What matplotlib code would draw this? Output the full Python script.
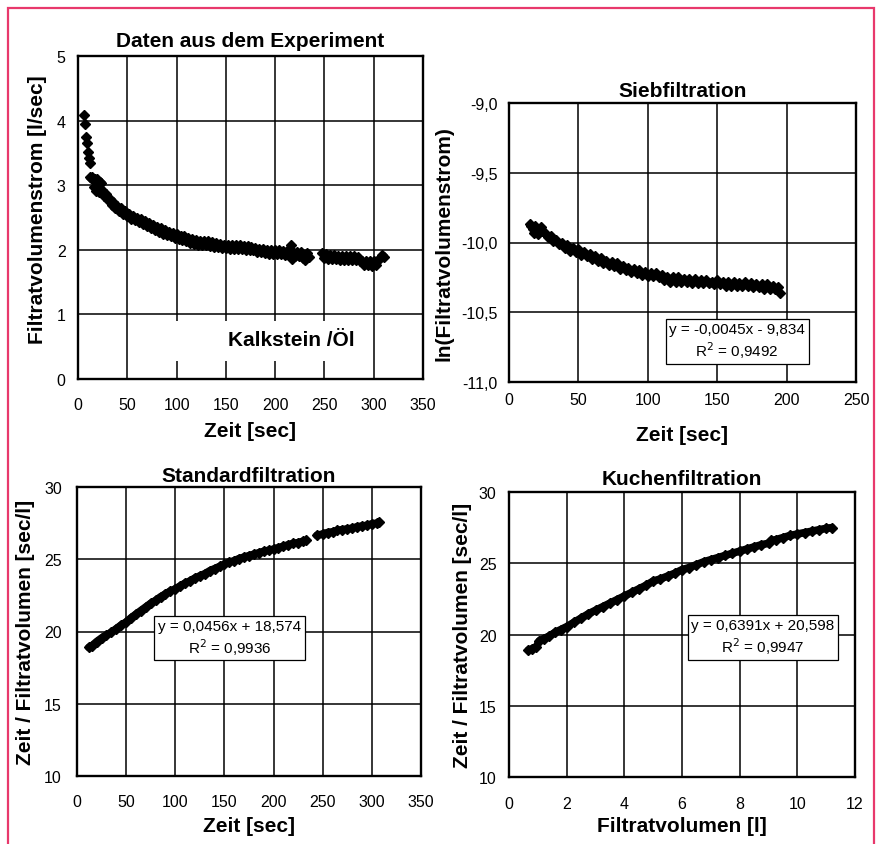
import matplotlib
matplotlib.use("Agg")
import matplotlib.pyplot as plt
from matplotlib.patches import Rectangle

plt.rcParams['font.family'] = ['Liberation Sans', 'DejaVu Sans']

# ---------------- data ----------------
# Daten aus dem Experiment: Zeit [sec] vs Filtratvolumenstrom [l/sec]
exp_t = [6, 7, 8.5, 9.5, 10.5, 11.5, 12, 12.5, 13.5, 14.5, 15.5, 16, 17, 18, 19, 20, 21, 22, 23,
         24, 26, 28, 30, 32, 34, 36, 38, 40, 42, 44, 46, 48, 50, 52, 54, 56, 58, 60, 62, 64, 66, 68,
         70, 72, 74, 76, 78, 80, 82, 84, 86, 88, 90, 92, 94, 96, 98, 100, 102, 104, 106, 108, 110,
         112, 114, 116, 118, 120, 122, 124, 126, 128, 130, 132, 134, 136, 138, 140, 142, 144, 146,
         148, 150, 152, 154, 156, 158, 160, 162, 164, 166, 168, 170, 172, 174, 176, 178, 180, 182,
         184, 186, 188, 190, 192, 194, 196, 198, 200, 202, 204, 206, 208, 210, 212, 214, 216, 217,
         218, 220, 222, 224, 226, 228, 230, 232, 234,
         248, 250, 252, 254, 256, 258, 260, 262, 264, 266, 268, 270, 272, 274, 276, 278, 280, 282,
         284, 286, 288, 290, 292, 294, 296, 298, 300, 302, 304, 306, 308, 310]
exp_q = [4.08, 3.95, 3.74, 3.65, 3.52, 3.42, 3.34, 3.12, 3.11, 3.12, 3.10, 2.97, 3.10, 2.91, 3.09, 2.93, 2.90, 3.05, 3.03,
         2.92, 2.84, 2.86, 2.77, 2.79, 2.70, 2.74, 2.65, 2.68, 2.60, 2.64, 2.56, 2.60, 2.52, 2.56, 2.48, 2.53, 2.46, 2.50, 2.43, 2.48, 2.40, 2.45,
         2.37, 2.42, 2.34, 2.39, 2.31, 2.35, 2.28, 2.33, 2.25, 2.30, 2.23, 2.28, 2.21, 2.26, 2.18, 2.24, 2.17, 2.22, 2.15, 2.21, 2.13,
         2.18, 2.10, 2.16, 2.09, 2.15, 2.08, 2.14, 2.07, 2.13, 2.07, 2.13, 2.06, 2.12, 2.05, 2.10, 2.04, 2.09, 2.03,
         2.08, 2.03, 2.08, 2.02, 2.08, 2.02, 2.07, 2.01, 2.07, 2.01, 2.06, 2.00, 2.06, 2.00, 2.05, 1.99, 2.03, 1.97,
         2.02, 1.96, 2.01, 1.95, 2.00, 1.94, 2.00, 1.94, 1.99, 1.93, 1.99, 1.93, 1.98, 1.92, 1.98, 1.92, 2.08, 1.86,
         1.97, 1.91, 1.97, 1.90, 1.96, 1.88, 1.84, 1.95, 1.89,
         1.95, 1.88, 1.93, 1.86, 1.92, 1.85, 1.92, 1.85, 1.91, 1.84, 1.91, 1.84, 1.90, 1.84, 1.90, 1.84, 1.90, 1.84,
         1.89, 1.83, 1.83, 1.77, 1.83, 1.76, 1.82, 1.75, 1.82, 1.77, 1.84, 1.88, 1.92, 1.89]

# Siebfiltration: Zeit [sec] vs ln(Filtratvolumenstrom)
sieb_t = [15, 16, 17, 18, 19, 21, 23, 24, 26, 28, 30, 32, 34, 36, 38, 40, 42, 44, 46, 48, 50, 52, 54,
          56, 58, 60, 62, 64, 66, 68, 70, 72, 74, 76, 78, 80, 82, 84, 86, 88, 90, 92, 94, 96, 98, 100,
          102, 104, 106, 108, 110, 112, 114, 116, 118, 120, 122, 124, 126, 128, 130, 132, 134, 136, 138,
          140, 142, 144, 146, 148, 150, 152, 154, 156, 158, 160, 162, 164, 166, 168, 170, 172, 174, 176,
          178, 180, 182, 184, 186, 188, 190, 192, 194, 195]
sieb_ln = [-9.87, -9.88, -9.90, -9.93, -9.88, -9.94, -9.89, -9.92, -9.93, -9.96, -9.95, -9.99, -9.98, -10.01,
           -10.00, -10.04, -10.02, -10.06, -10.04, -10.07, -10.05, -10.09, -10.07, -10.10, -10.08, -10.12,
           -10.10, -10.13, -10.11, -10.15, -10.13, -10.16, -10.14, -10.17, -10.15, -10.19, -10.17, -10.20,
           -10.18, -10.21, -10.19, -10.22, -10.20, -10.23, -10.21, -10.24, -10.22, -10.24, -10.22, -10.25,
           -10.23, -10.27, -10.25, -10.28, -10.25, -10.28, -10.25, -10.28, -10.26, -10.28, -10.26, -10.29,
           -10.26, -10.29, -10.27, -10.29, -10.27, -10.29, -10.28, -10.30, -10.27, -10.30, -10.28, -10.31,
           -10.28, -10.31, -10.28, -10.31, -10.29, -10.31, -10.28, -10.31, -10.29, -10.32, -10.30, -10.32,
           -10.30, -10.33, -10.30, -10.33, -10.31, -10.33, -10.32, -10.36]

# Standardfiltration: Zeit [sec] vs Zeit / Filtratvolumen [sec/l]  (two recorded segments)
std_t_a = [12, 15, 20, 25, 30, 35, 40, 45, 50, 55, 60, 65, 70, 75, 80, 85, 90, 95, 100, 105, 110, 115,
           120, 125, 130, 135, 140, 145, 150, 155, 160, 165, 170, 175, 180, 185, 190, 195, 200, 205, 210,
           215, 220, 225, 230, 233]
std_tv_a = [18.9, 19.0, 19.3, 19.55, 19.75, 19.95, 20.2, 20.45, 20.65, 20.95, 21.2, 21.45, 21.7, 21.95,
            22.15, 22.4, 22.6, 22.8, 22.95, 23.15, 23.35, 23.5, 23.7, 23.85, 24.0, 24.2, 24.35, 24.5,
            24.65, 24.8, 24.9, 25.05, 25.15, 25.25, 25.35, 25.45, 25.55, 25.62, 25.7, 25.8, 25.9, 26.0,
            26.1, 26.15, 26.25, 26.3]
std_t_b = [244, 250, 255, 260, 265, 270, 275, 280, 285, 290, 295, 300, 305, 307]
std_tv_b = [26.65, 26.75, 26.85, 26.9, 27.0, 27.05, 27.1, 27.15, 27.25, 27.3, 27.35, 27.45, 27.5, 27.55]

# Kuchenfiltration: Filtratvolumen [l] vs Zeit / Filtratvolumen [sec/l]
ku_v = [0.67, 0.8, 0.95, 1.05, 1.2, 1.4, 1.6, 1.8, 2.0, 2.25, 2.5, 2.75, 3.0, 3.25, 3.5, 3.75, 4.0,
        4.25, 4.5, 4.75, 5.0, 5.25, 5.5, 5.75, 6.0, 6.25, 6.5, 6.75, 7.0, 7.25, 7.5, 7.75, 8.0, 8.25,
        8.5, 8.75, 9.0, 9.1, 9.25, 9.5, 9.75, 10.0, 10.25, 10.5, 10.75, 11.0, 11.2]
ku_tv = [18.9, 19.0, 19.15, 19.55, 19.7, 19.9, 20.15, 20.35, 20.55, 20.85, 21.15, 21.45, 21.7, 21.95,
         22.2, 22.45, 22.7, 22.95, 23.2, 23.45, 23.75, 23.9, 24.1, 24.3, 24.55, 24.7, 24.9, 25.1, 25.25,
         25.4, 25.55, 25.7, 25.85, 26.0, 26.15, 26.3, 26.4, 26.6, 26.65, 26.8, 26.95, 27.05, 27.15,
         27.25, 27.35, 27.45, 27.5]

sieb_yticks = [-11.0, -10.5, -10.0, -9.5, -9.0]
sieb_ylabels = ['-11,0', '-10,5', '-10,0', '-9,5', '-9,0']

# ---------------- figure ----------------
W, H = 881, 845
fig = plt.figure(figsize=(W / 100, H / 100), dpi=100)
fig.patch.set_facecolor('white')

def rect(l, r, t, b):
    return [l / W, (H - b) / H, (r - l) / W, (b - t) / H]

ax1 = fig.add_axes(rect(78, 423, 57, 380))
ax2 = fig.add_axes(rect(509, 856, 104, 383))
ax3 = fig.add_axes(rect(77, 421, 488, 777))
ax4 = fig.add_axes(rect(509, 855, 493, 778))

TFS = 15
TKFS = 11.5

def style(ax, xpad, ypad):
    ax.set_axisbelow(True)
    ax.grid(True, color='black', linewidth=1.1)
    for s in ax.spines.values():
        s.set_linewidth(1.7)
        s.set_color('black')
    ax.tick_params(axis='x', length=0, pad=xpad, labelsize=TKFS)
    ax.tick_params(axis='y', length=0, pad=ypad, labelsize=TKFS)

def band(ax, x, y):
    ax.plot(x, y, linestyle='-', linewidth=5.5, solid_capstyle='round', color='black',
            marker='D', markersize=5.5, zorder=3)

# Plot 1
ax1.plot(exp_t, exp_q, linestyle='none', marker='D', markersize=5, color='black', zorder=3)
ax1.set_xlim(0, 350)
ax1.set_ylim(0, 5)
ax1.set_xticks(range(0, 351, 50))
ax1.set_yticks(range(0, 6))
style(ax1, 13, 9)
ax1.set_title('Daten aus dem Experiment', fontsize=TFS, fontweight='bold', pad=7)
ax1.set_xlabel('Zeit [sec]', fontsize=TFS, fontweight='bold')
ax1.set_ylabel('Filtratvolumenstrom [l/sec]', fontsize=TFS, fontweight='bold')
ax1.xaxis.set_label_coords(0.5, -0.13)
ax1.yaxis.set_label_coords(-0.09, 0.526)
ax1.add_patch(Rectangle((0.284, 0.056), 0.568, 0.124, transform=ax1.transAxes,
                        facecolor='white', edgecolor='none', zorder=1))
ax1.text(0.617, 0.121, 'Kalkstein /Öl', transform=ax1.transAxes, fontsize=TFS,
         fontweight='bold', ha='center', va='center', zorder=4)

# Plot 2
ax2.plot(sieb_t, sieb_ln, linestyle='none', marker='D', markersize=5, color='black', zorder=3)
ax2.set_xlim(0, 250)
ax2.set_ylim(-11, -9)
ax2.set_xticks(range(0, 251, 50))
ax2.set_yticks(sieb_yticks)
ax2.set_yticklabels(sieb_ylabels)
style(ax2, 7, 8)
ax2.set_title('Siebfiltration', fontsize=TFS, fontweight='bold', pad=5)
ax2.set_xlabel('Zeit [sec]', fontsize=TFS, fontweight='bold')
ax2.set_ylabel('ln(Filtratvolumenstrom)', fontsize=TFS, fontweight='bold')
ax2.xaxis.set_label_coords(0.5, -0.154)
ax2.yaxis.set_label_coords(-0.161, 0.5)
ax2.text(0.658, 0.147, 'y = -0,0045x - 9,834\nR$^2$ = 0,9492', transform=ax2.transAxes,
         fontsize=11, ha='center', va='center', multialignment='center', zorder=5,
         bbox=dict(boxstyle='square,pad=0.25', facecolor='white', edgecolor='black', linewidth=0.9))

# Plot 3
band(ax3, std_t_a, std_tv_a)
band(ax3, std_t_b, std_tv_b)
ax3.set_xlim(0, 350)
ax3.set_ylim(10, 30)
ax3.set_xticks(range(0, 351, 50))
ax3.set_yticks(range(10, 31, 5))
style(ax3, 13, 11)
ax3.set_title('Standardfiltration', fontsize=TFS, fontweight='bold', pad=4.5)
ax3.set_xlabel('Zeit [sec]', fontsize=TFS, fontweight='bold')
ax3.set_ylabel('Zeit / Filtratvolumen [sec/l]', fontsize=TFS, fontweight='bold')
ax3.xaxis.set_label_coords(0.5, -0.138)
ax3.yaxis.set_label_coords(-0.122, 0.5)
ax3.text(0.443, 0.479, 'y = 0,0456x + 18,574\nR$^2$ = 0,9936', transform=ax3.transAxes,
         fontsize=11, ha='center', va='center', multialignment='center', zorder=5,
         bbox=dict(boxstyle='square,pad=0.25', facecolor='white', edgecolor='black', linewidth=0.9))

# Plot 4
band(ax4, ku_v, ku_tv)
ax4.set_xlim(0, 12)
ax4.set_ylim(10, 30)
ax4.set_xticks(range(0, 13, 2))
ax4.set_yticks(range(10, 31, 5))
style(ax4, 14, 9)
ax4.set_title('Kuchenfiltration', fontsize=TFS, fontweight='bold', pad=6)
ax4.set_xlabel('Filtratvolumen [l]', fontsize=TFS, fontweight='bold')
ax4.set_ylabel('Zeit / Filtratvolumen [sec/l]', fontsize=TFS, fontweight='bold')
ax4.xaxis.set_label_coords(0.5, -0.137)
ax4.yaxis.set_label_coords(-0.107, 0.5)
ax4.text(0.734, 0.491, 'y = 0,6391x + 20,598\nR$^2$ = 0,9947', transform=ax4.transAxes,
         fontsize=11, ha='center', va='center', multialignment='center', zorder=5,
         bbox=dict(boxstyle='square,pad=0.25', facecolor='white', edgecolor='black', linewidth=0.9))

# pink frame of the scanned page
fig.patches.append(Rectangle((8 / W, -0.05), (874 - 8) / W, (H - 9) / H + 0.05,
                             transform=fig.transFigure, facecolor='none',
                             edgecolor='#e8386c', linewidth=1.6, zorder=0))

fig.savefig('out.png', dpi=100)
